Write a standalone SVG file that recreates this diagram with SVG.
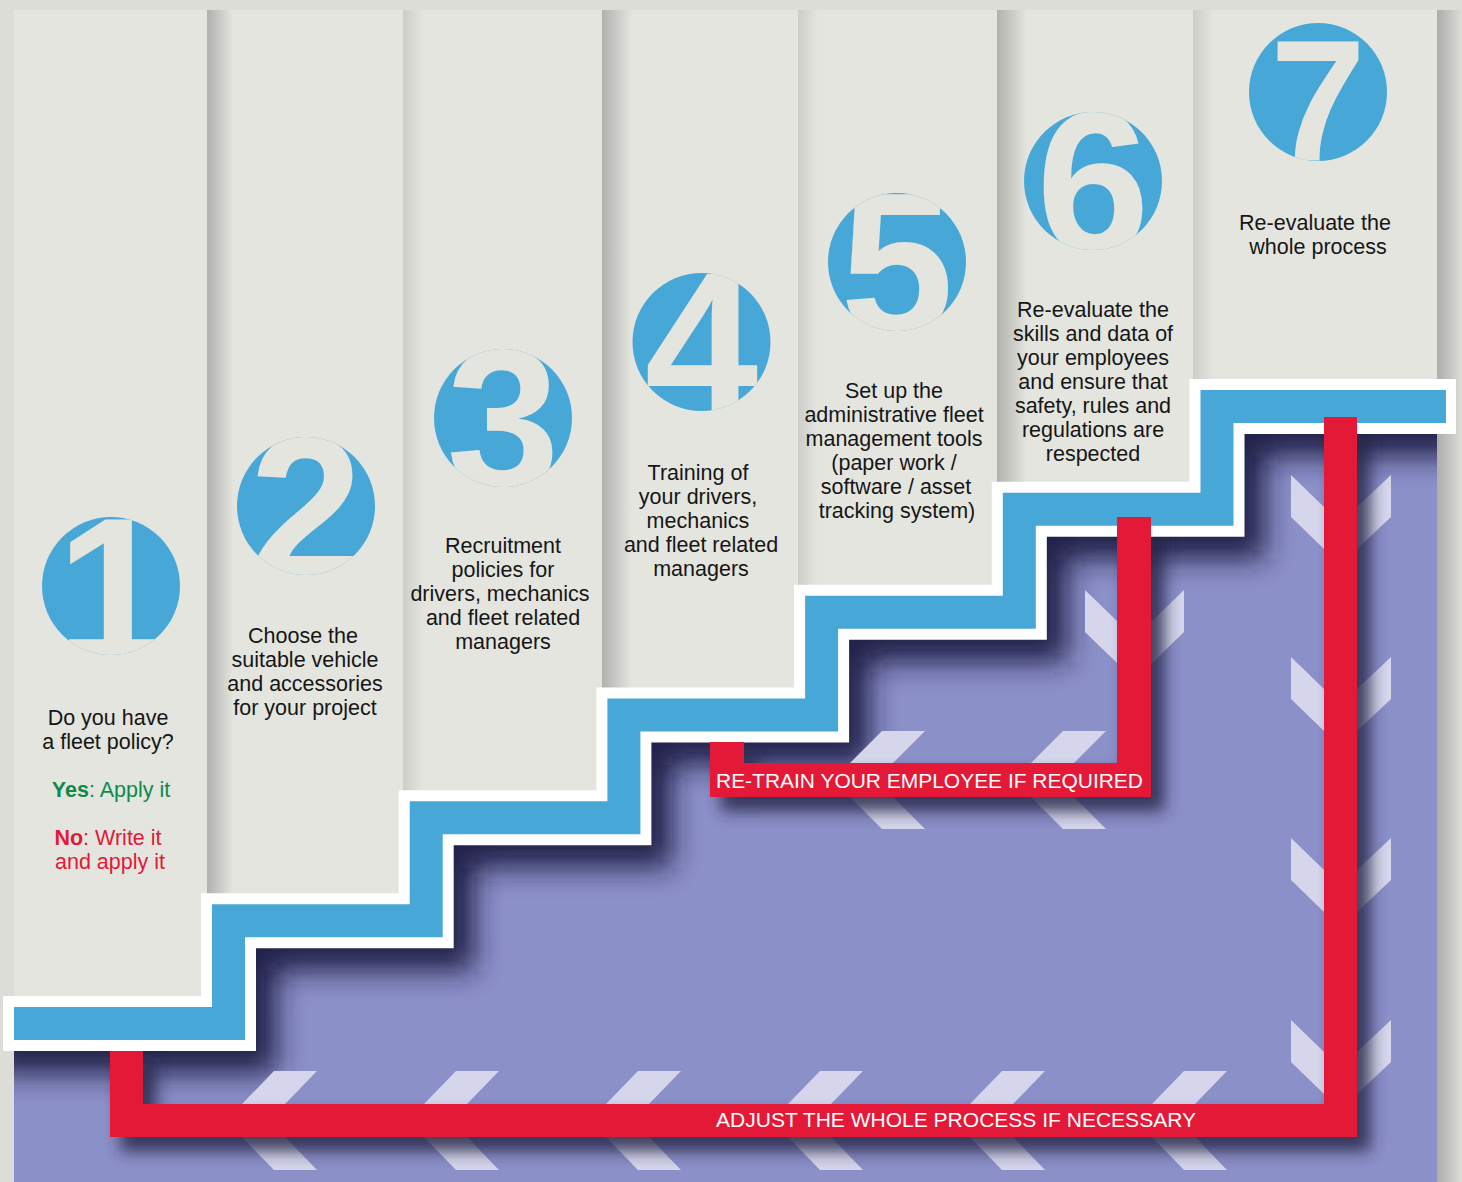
<svg xmlns="http://www.w3.org/2000/svg" width="1462" height="1182" viewBox="0 0 1462 1182">
<style>
.col{fill:#e4e5df}
.lbl{font-family:"Liberation Sans",Arial,sans-serif;font-size:21.5px;fill:#161616;text-anchor:middle}
.dig{font-family:"Liberation Sans",Arial,sans-serif;font-weight:bold;font-size:204px;fill:#e4e5df;text-anchor:middle}
.badge{fill:#47a8d8}
.chev{fill:#d5d6eb}
.red{fill:none;stroke:#e31937;stroke-width:33;stroke-linejoin:miter;stroke-linecap:butt}
.redtxt{font-family:"Liberation Sans",Arial,sans-serif;font-size:20px;fill:#ffffff}
</style>
<defs>
<linearGradient id="cs" x1="0" y1="0" x2="1" y2="0">
<stop offset="0" stop-color="#8e8e8c" stop-opacity="0.6"/>
<stop offset="1" stop-color="#8e8e8c" stop-opacity="0"/>
</linearGradient>
<filter id="blurL" x="-20%" y="-20%" width="140%" height="140%"><feGaussianBlur stdDeviation="14"/></filter>
<filter id="blurS" x="-20%" y="-20%" width="140%" height="140%"><feGaussianBlur stdDeviation="8"/></filter>
<clipPath id="pclip">
<polygon points="14,1023.5 228.5,1023.5 228.5,920.7 426.2,920.7 426.2,817.8 623.9,817.8 623.9,715 821.6,715 821.6,612.2 1019.3,612.2 1019.3,509.3 1217,509.3 1217,406.5 1437,406.5 1437,1182 14,1182"/>
</clipPath>
<clipPath id="c1"><circle cx="111" cy="586" r="69"/></clipPath>
<clipPath id="c2"><circle cx="306" cy="506" r="69"/></clipPath>
<clipPath id="c3"><circle cx="503" cy="418" r="69"/></clipPath>
<clipPath id="c4"><circle cx="701.5" cy="342" r="69"/></clipPath>
<clipPath id="c5"><circle cx="897" cy="262" r="69"/></clipPath>
<clipPath id="c6"><circle cx="1093" cy="181" r="69"/></clipPath>
<clipPath id="c7"><circle cx="1318" cy="92" r="69"/></clipPath>
</defs>

<!-- background and columns -->
<rect x="0" y="0" width="1462" height="1182" fill="#dcddd7"/>
<g id="columns">
<rect class="col" x="14" y="10" width="193" height="1172"/>
<rect class="col" x="207" y="10" width="196" height="1172"/>
<rect class="col" x="403" y="10" width="199" height="1172"/>
<rect class="col" x="602" y="10" width="196" height="1172"/>
<rect class="col" x="798" y="10" width="199" height="1172"/>
<rect class="col" x="997" y="10" width="196" height="1172"/>
<rect class="col" x="1193" y="10" width="244" height="1172"/>
<rect x="207" y="10" width="26" height="1172" fill="url(#cs)"/>
<rect x="403" y="10" width="20" height="1172" fill="url(#cs)" opacity="0.45"/>
<rect x="602" y="10" width="30" height="1172" fill="url(#cs)"/>
<rect x="798" y="10" width="20" height="1172" fill="url(#cs)" opacity="0.45"/>
<rect x="997" y="10" width="30" height="1172" fill="url(#cs)"/>
<rect x="1193" y="10" width="20" height="1172" fill="url(#cs)" opacity="0.45"/>
<rect x="1437" y="10" width="25" height="1172" fill="url(#cs)"/>
</g>

<!-- purple floor -->
<polygon id="floor" fill="#8c90c8" points="14,1023.5 228.5,1023.5 228.5,920.7 426.2,920.7 426.2,817.8 623.9,817.8 623.9,715 821.6,715 821.6,612.2 1019.3,612.2 1019.3,509.3 1217,509.3 1217,406.5 1437,406.5 1437,1182 14,1182"/>

<!-- stair shadow -->
<g clip-path="url(#pclip)">
<polyline fill="none" stroke="#1f1f45" stroke-width="80" stroke-linejoin="miter" opacity="0.95" filter="url(#blurL)" transform="translate(8,10)" points="-20,1023.5 228.5,1023.5 228.5,920.7 426.2,920.7 426.2,817.8 623.9,817.8 623.9,715 821.6,715 821.6,612.2 1019.3,612.2 1019.3,509.3 1217,509.3 1217,406.5 1470,406.5"/>
</g>

<!-- chevrons -->
<g id="chevrons" class="chev">
<polygon points="274,1071 317,1071 285,1104 242,1104"/><polygon points="242,1137 285,1137 317,1170 274,1170"/>
<polygon points="456,1071 499,1071 467,1104 424,1104"/><polygon points="424,1137 467,1137 499,1170 456,1170"/>
<polygon points="638,1071 681,1071 649,1104 606,1104"/><polygon points="606,1137 649,1137 681,1170 638,1170"/>
<polygon points="820,1071 863,1071 831,1104 788,1104"/><polygon points="788,1137 831,1137 863,1170 820,1170"/>
<polygon points="1002,1071 1045,1071 1013,1104 970,1104"/><polygon points="970,1137 1013,1137 1045,1170 1002,1170"/>
<polygon points="1184,1071 1227,1071 1195,1104 1152,1104"/><polygon points="1152,1137 1195,1137 1227,1170 1184,1170"/>
<polygon points="882,731 925,731 893,763 850,763"/><polygon points="850,797 893,797 925,829 882,829"/>
<polygon points="1063,731 1106,731 1074,763 1031,763"/><polygon points="1031,797 1074,797 1106,829 1063,829"/>
<polygon points="1291,475 1324,507 1324,549 1291,517"/><polygon points="1357,507 1391,475 1391,517 1357,549"/>
<polygon points="1291,657 1324,689 1324,731 1291,699"/><polygon points="1357,689 1391,657 1391,699 1357,731"/>
<polygon points="1291,838 1324,870 1324,912 1291,880"/><polygon points="1357,870 1391,838 1391,880 1357,912"/>
<polygon points="1291,1020 1324,1052 1324,1094 1291,1062"/><polygon points="1357,1052 1391,1020 1391,1062 1357,1094"/>
<polygon points="1085,590 1118,622 1118,664 1085,632"/><polygon points="1151,622 1184,590 1184,632 1151,664"/>
</g>

<!-- red shadows -->
<g clip-path="url(#pclip)" opacity="0.85" filter="url(#blurS)">
<polyline fill="none" stroke="#25254a" stroke-width="36" transform="translate(12,13)" points="126.5,1051 126.5,1120.5 1340.5,1120.5 1340.5,417"/>
<polyline fill="none" stroke="#25254a" stroke-width="37" transform="translate(12,13)" points="727,742 727,780 1134,780 1134,517"/>
</g>

<!-- stair -->
<g id="stair">
<polyline fill="none" stroke="#ffffff" stroke-width="55" stroke-linejoin="miter" stroke-linecap="butt" points="3,1023.5 228.5,1023.5 228.5,920.7 426.2,920.7 426.2,817.8 623.9,817.8 623.9,715 821.6,715 821.6,612.2 1019.3,612.2 1019.3,509.3 1217,509.3 1217,406.5 1456,406.5"/>
<polyline fill="none" stroke="#47a8d8" stroke-width="33" stroke-linejoin="miter" stroke-linecap="butt" points="14,1023.5 228.5,1023.5 228.5,920.7 426.2,920.7 426.2,817.8 623.9,817.8 623.9,715 821.6,715 821.6,612.2 1019.3,612.2 1019.3,509.3 1217,509.3 1217,406.5 1446,406.5"/>
</g>

<!-- red loops -->
<g id="connectors">
<polyline class="red" points="126.5,1051 126.5,1120.5 1340.5,1120.5 1340.5,417"/>
<polyline class="red" style="stroke-width:34" points="727,742 727,780 1134,780 1134,517"/>
<text class="redtxt" x="716" y="788" textLength="427" lengthAdjust="spacingAndGlyphs">RE-TRAIN YOUR EMPLOYEE IF REQUIRED</text>
<text class="redtxt" x="716" y="1127" textLength="480" lengthAdjust="spacingAndGlyphs">ADJUST THE WHOLE PROCESS IF NECESSARY</text>
</g>

<!-- step nodes -->
<g id="step1">
<circle class="badge" cx="111" cy="586" r="69"/>
<text class="dig" x="113" y="660" clip-path="url(#c1)">1</text>
<text class="lbl" x="108" y="725">Do you have</text>
<text class="lbl" x="108" y="749">a fleet policy?</text>
<text class="lbl" x="111" y="797" style="fill:#0e8a4c"><tspan font-weight="bold">Yes</tspan>: Apply it</text>
<text class="lbl" x="108" y="845" style="fill:#e31937"><tspan font-weight="bold">No</tspan>: Write it</text>
<text class="lbl" x="110" y="869" style="fill:#e31937">and apply it</text>
</g>
<g id="step2">
<circle class="badge" cx="306" cy="506" r="69"/>
<text class="dig" x="306" y="579" clip-path="url(#c2)">2</text>
<text class="lbl" x="303" y="643">Choose the</text>
<text class="lbl" x="305" y="667">suitable vehicle</text>
<text class="lbl" x="305" y="691">and accessories</text>
<text class="lbl" x="305" y="715">for your project</text>
</g>
<g id="step3">
<circle class="badge" cx="503" cy="418" r="69"/>
<text class="dig" x="503" y="491" clip-path="url(#c3)">3</text>
<text class="lbl" x="503" y="553">Recruitment</text>
<text class="lbl" x="503" y="577">policies for</text>
<text class="lbl" x="500" y="601">drivers, mechanics</text>
<text class="lbl" x="503" y="625">and fleet related</text>
<text class="lbl" x="503" y="649">managers</text>
</g>
<g id="step4">
<circle class="badge" cx="701.5" cy="342" r="69"/>
<text class="dig" x="701.5" y="415" clip-path="url(#c4)">4</text>
<text class="lbl" x="698" y="480">Training of</text>
<text class="lbl" x="698" y="504">your drivers,</text>
<text class="lbl" x="698" y="528">mechanics</text>
<text class="lbl" x="701" y="552">and fleet related</text>
<text class="lbl" x="701" y="576">managers</text>
</g>
<g id="step5">
<circle class="badge" cx="897" cy="262" r="69"/>
<text class="dig" x="897" y="335" clip-path="url(#c5)">5</text>
<text class="lbl" x="894" y="398">Set up the</text>
<text class="lbl" x="894" y="422">administrative fleet</text>
<text class="lbl" x="894" y="446">management tools</text>
<text class="lbl" x="894" y="470">(paper work /</text>
<text class="lbl" x="896" y="494">software / asset</text>
<text class="lbl" x="897" y="518">tracking system)</text>
</g>
<g id="step6">
<circle class="badge" cx="1093" cy="181" r="69"/>
<text class="dig" x="1093" y="254" clip-path="url(#c6)">6</text>
<text class="lbl" x="1093" y="317">Re-evaluate the</text>
<text class="lbl" x="1093" y="341">skills and data of</text>
<text class="lbl" x="1093" y="365">your employees</text>
<text class="lbl" x="1093" y="389">and ensure that</text>
<text class="lbl" x="1093" y="413">safety, rules and</text>
<text class="lbl" x="1093" y="437">regulations are</text>
<text class="lbl" x="1093" y="461">respected</text>
</g>
<g id="step7">
<circle class="badge" cx="1318" cy="92" r="69"/>
<text class="dig" x="1318" y="160" style="font-size:172px" clip-path="url(#c7)">7</text>
<text class="lbl" x="1315" y="230">Re-evaluate the</text>
<text class="lbl" x="1318" y="254">whole process</text>
</g>
</svg>
